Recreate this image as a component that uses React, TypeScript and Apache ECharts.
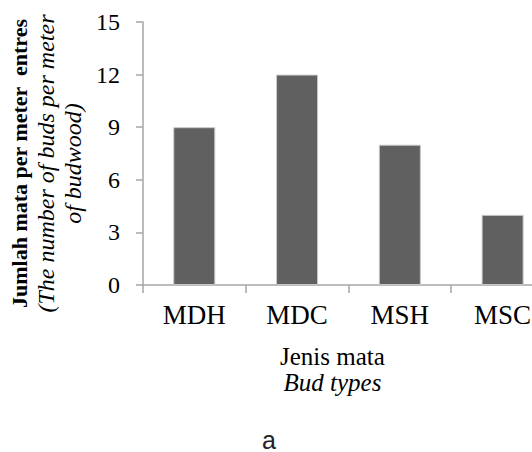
import React, { useEffect, useRef } from "react";
import * as echarts from "echarts";

const categories = ["MDH", "MDC", "MSH", "MSC"];
const budsPerMeter = [9, 12, 8, 4];
const yTicks = { min: 0, max: 15, interval: 3 };
const yTitleBold = "Jumlah mata per meter  entres";
const yTitleItalic1 = "(The number of buds per meter";
const yTitleItalic2 = "of budwood)";
const xTitle = "Jenis mata";
const xTitleItalic = "Bud types";
const caption = "a";

export default function App() {
  const ref = useRef<HTMLDivElement>(null);
  useEffect(() => {
    if (!ref.current) return;
    const chart = echarts.init(ref.current, undefined, { renderer: "svg" });
    const serif = "Liberation Serif";
    chart.setOption({
      animation: false,
      backgroundColor: "#ffffff",
      textStyle: { fontFamily: serif },
      grid: { left: 135, top: 22, bottom: 167, right: 0 },
      xAxis: {
        type: "category",
        data: categories,
        axisLine: { show: true, lineStyle: { color: "#a6a6a6", width: 1.5 } },
        axisTick: { show: true, length: 8, alignWithLabel: false, lineStyle: { color: "#a6a6a6", width: 1.5 } },
        axisLabel: { fontFamily: serif, fontSize: 27, color: "#000", margin: 16, interval: 0 },
        name: `{r|${xTitle}}\n{i|${xTitleItalic}}`,
        nameLocation: "middle",
        nameGap: 58,
        nameTextStyle: {
          fontFamily: serif,
          padding: [0, 32, 0, 0],
          rich: {
            r: { fontFamily: serif, fontSize: 25, lineHeight: 26, color: "#000" },
            i: { fontFamily: serif, fontSize: 25, lineHeight: 26, fontStyle: "italic", color: "#000" },
          },
        },
      },
      yAxis: {
        type: "value",
        min: yTicks.min,
        max: yTicks.max,
        interval: yTicks.interval,
        splitLine: { show: false },
        axisLine: { show: true, lineStyle: { color: "#a6a6a6", width: 1.5 } },
        axisTick: { show: true, length: 7, lineStyle: { color: "#a6a6a6", width: 1.5 } },
        axisLabel: { fontFamily: serif, fontSize: 24, color: "#000", margin: 23 },
        name: `{b|${yTitleBold}}\n{i|${yTitleItalic1}}\n{i|${yTitleItalic2}}`,
        nameLocation: "middle",
        nameRotate: 90,
        nameGap: 49,
        nameTextStyle: {
          fontFamily: serif,
          align: "center",
          padding: [0, 20, 0, 0],
          rich: {
            b: { fontFamily: serif, fontSize: 22, fontWeight: "bold", lineHeight: 27, color: "#000", align: "center" },
            i: { fontFamily: serif, fontSize: 24, fontStyle: "italic", lineHeight: 27, color: "#000", align: "center" },
          },
        },
      },
      series: [
        {
          type: "bar",
          data: budsPerMeter,
          barWidth: 42,
          itemStyle: { color: "#606060", borderColor: "#c8c8c8", borderWidth: 1 },
        },
      ],
      graphic: [
        {
          type: "text",
          x: 269,
          y: 452,
          style: {
            text: caption,
            font: "25px 'Liberation Sans', Arial, sans-serif",
            fill: "#222",
            textAlign: "center",
            textVerticalAlign: "bottom",
          },
        },
      ],
    });
    return () => chart.dispose();
  }, []);
  return (
    <div
      ref={ref}
      style={{ position: "fixed", left: 0, top: 0, width: 554, height: 452, background: "#fff" }}
    />
  );
}
